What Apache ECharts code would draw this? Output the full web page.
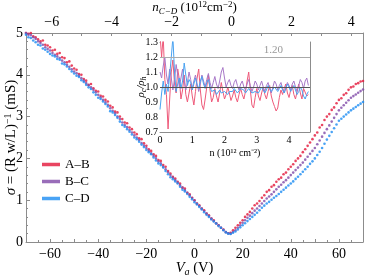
<!DOCTYPE html>
<html>
<head>
<meta charset="utf-8">
<script src="https://cdn.jsdelivr.net/npm/echarts@6/dist/echarts.min.js"></script>
<style>html,body{margin:0;padding:0;background:#fff}#c{width:382px;height:275px}</style>
</head>
<body>
<div id="c"></div>
<script>
// ---- main plot data: sigma (mS) vs Vg (V), sampled every 1 V from -70 to 70 ----
const vgStart = -70;
const vgStep = 1;
const sigmaAB = [
5.00,4.98,5.00,4.92,4.90,4.85,4.80,4.82,4.72,4.70,
4.66,4.58,4.60,4.50,4.52,4.42,4.40,4.30,4.32,4.22,
4.15,4.12,4.02,4.00,3.90,3.86,3.76,3.78,3.68,3.62,
3.60,3.50,3.48,3.40,3.36,3.26,3.22,3.12,3.10,3.00,
2.94,2.86,2.84,2.74,2.70,2.62,2.58,2.48,2.46,2.36,
2.30,2.22,2.18,2.10,2.06,1.96,1.94,1.84,1.80,1.70,
1.64,1.56,1.52,1.44,1.40,1.30,1.28,1.18,1.14,1.06,
1.00,0.92,0.88,0.80,0.76,0.68,0.64,0.56,0.52,0.45,
0.40,0.34,0.30,0.24,0.21,0.22,0.28,0.34,0.40,0.46,
0.52,0.60,0.66,0.72,0.80,0.88,0.92,0.98,1.06,1.12,
1.20,1.24,1.32,1.36,1.44,1.50,1.54,1.62,1.66,1.74,
1.80,1.86,1.94,2.00,2.06,2.15,2.22,2.30,2.38,2.46,
2.55,2.62,2.74,2.80,2.92,3.00,3.06,3.16,3.22,3.32,
3.40,3.44,3.52,3.56,3.64,3.70,3.72,3.78,3.80,3.84,3.85];
const sigmaBC = [
5.00,4.96,4.95,4.90,4.86,4.80,4.76,4.72,4.66,4.62,
4.58,4.52,4.48,4.44,4.40,4.34,4.30,4.24,4.19,4.13,
4.08,4.04,3.98,3.92,3.86,3.80,3.75,3.70,3.64,3.58,
3.52,3.46,3.40,3.34,3.28,3.20,3.14,3.08,3.00,2.94,
2.86,2.80,2.75,2.68,2.62,2.55,2.50,2.44,2.37,2.31,
2.25,2.18,2.12,2.06,2.00,1.93,1.88,1.80,1.74,1.67,
1.60,1.54,1.48,1.42,1.36,1.30,1.24,1.18,1.12,1.05,
0.99,0.92,0.86,0.80,0.74,0.68,0.62,0.56,0.50,0.45,
0.40,0.34,0.29,0.24,0.21,0.20,0.24,0.28,0.34,0.40,
0.46,0.52,0.58,0.63,0.69,0.75,0.80,0.86,0.92,0.98,
1.04,1.09,1.14,1.20,1.26,1.32,1.37,1.43,1.48,1.54,
1.60,1.66,1.72,1.78,1.84,1.90,1.97,2.04,2.11,2.18,
2.25,2.34,2.43,2.52,2.61,2.70,2.79,2.88,2.97,3.06,
3.15,3.21,3.27,3.33,3.39,3.45,3.49,3.53,3.57,3.61,3.65];
const sigmaCD = [
4.96,4.90,4.88,4.82,4.78,4.72,4.70,4.63,4.60,4.55,
4.50,4.46,4.44,4.38,4.36,4.27,4.25,4.20,4.14,4.08,
4.03,3.98,3.95,3.87,3.83,3.76,3.70,3.66,3.58,3.52,
3.45,3.42,3.36,3.30,3.24,3.13,3.10,3.04,2.97,2.88,
2.80,2.76,2.70,2.64,2.57,2.50,2.46,2.40,2.33,2.27,
2.20,2.15,2.10,2.02,1.95,1.88,1.84,1.78,1.70,1.62,
1.55,1.50,1.45,1.40,1.32,1.25,1.21,1.15,1.08,1.02,
0.95,0.90,0.84,0.78,0.71,0.65,0.60,0.54,0.49,0.44,
0.38,0.34,0.28,0.23,0.20,0.19,0.22,0.25,0.30,0.35,
0.40,0.45,0.50,0.55,0.60,0.65,0.70,0.76,0.82,0.87,
0.92,0.96,1.01,1.06,1.10,1.15,1.20,1.25,1.30,1.35,
1.40,1.45,1.51,1.56,1.62,1.68,1.74,1.80,1.87,1.93,
2.00,2.08,2.16,2.25,2.35,2.45,2.54,2.63,2.72,2.81,
2.90,2.95,3.00,3.05,3.10,3.15,3.19,3.23,3.27,3.31,3.35];

// ---- inset data: rho_c/rho_h vs n (1e12 cm^-2), sampled every 0.05 from 0 ----
const nStart = 0;
const nStep = 0.05;
const ratioAB = [
1.35,1.20,1.34,1.05,0.95,0.72,0.92,1.10,1.18,1.02,
0.96,1.12,1.05,0.92,0.98,1.08,0.95,0.90,0.96,1.02,
0.94,0.88,0.97,1.06,1.12,0.98,0.88,0.85,0.92,1.00,
1.08,0.98,0.90,0.93,0.99,0.94,0.90,0.96,1.03,0.97,
0.92,0.95,1.00,0.96,0.91,0.94,0.98,0.93,0.90,0.95,
0.99,0.95,0.92,0.97,1.04,1.10,0.98,0.88,0.86,0.93,
0.99,0.94,0.91,0.96,1.00,0.95,0.92,0.97,1.01,0.94,
0.90,0.87,0.84,0.86,0.93,0.98,0.95,0.99,1.02,0.96,
0.93,0.98,1.01,0.95,0.92,0.97,1.02,0.96,0.92,0.99,
1.00,0.94,0.95];
const ratioBC = [
1.10,1.06,1.14,1.20,1.08,1.02,1.12,1.06,0.98,1.05,
1.15,1.08,1.00,1.06,1.12,1.04,0.98,1.03,1.10,1.05,
0.99,1.04,1.08,1.02,0.97,1.02,1.08,1.04,1.00,1.05,
1.09,1.03,0.99,1.03,1.07,1.02,0.99,1.04,1.10,1.13,
1.06,1.00,1.03,1.05,1.01,0.99,1.03,1.05,1.01,0.98,
1.02,1.04,1.00,0.98,1.02,1.05,1.01,0.97,1.00,1.04,
1.02,0.98,1.01,1.04,1.00,0.97,1.01,1.03,0.99,0.96,
1.00,1.04,1.02,0.98,1.01,1.03,0.99,0.96,1.00,1.03,
1.01,0.98,1.02,1.04,1.00,0.97,1.01,1.05,1.03,0.99,
1.04,1.06,1.01];
const ratioCD = [
0.85,0.96,1.04,0.95,1.02,0.97,1.08,1.20,1.33,1.10,
0.97,1.02,1.06,0.99,1.04,1.16,1.08,1.01,1.05,1.03,
0.98,1.02,1.06,1.01,0.99,1.04,1.07,1.02,0.99,1.03,
1.05,1.00,0.97,0.96,0.98,0.95,0.96,0.98,0.96,0.95,
0.97,0.96,0.95,0.97,0.96,0.97,0.99,0.98,0.96,0.97,
0.99,1.00,0.98,0.96,0.97,0.99,0.98,0.96,0.95,0.97,
0.98,0.96,0.97,1.00,0.98,0.96,0.98,1.01,0.99,0.97,
0.98,1.00,0.99,0.97,0.99,1.01,0.98,0.96,0.99,1.02,
1.00,0.97,0.99,1.01,0.98,0.95,0.97,1.00,0.98,0.94,
0.92,0.95,0.97];

const seriesNames = ['A–B', 'B–C', 'C–D'];
const bottomLabels = [-60, -40, -20, 0, 20, 40, 60];
const topLabels = [-6, -4, -2, 0, 2, 4];
const topTicks = [-6, -5, -4, -3, -2, -1, 0, 1, 2, 3, 4];
const insetLabels = [0, 1, 2, 3, 4];
const insetRefLines = [1.0, 1.2];

const colors = ['#e4163a', '#8048a8', '#1c8cf2'];
const insetColors = ['#ee5a7a', '#a878c8', '#4aa2f0'];
const SERIF = 'Liberation Serif';
const frame = '#8c8c8c';

function pairs(start, step, ys) {
  return ys.map((y, i) => [+(start + i * step).toFixed(4), y]);
}

const chart = echarts.init(document.getElementById('c'), null, {renderer: 'canvas'});

function richSet(fs, sfs, lh) {
  return {
    sup: {fontSize: sfs, fontFamily: SERIF, color: '#000', verticalAlign: 'top', lineHeight: lh},
    sub: {fontSize: sfs, fontFamily: SERIF, color: '#000', verticalAlign: 'bottom', lineHeight: lh, fontStyle: 'italic'},
    i: {fontSize: fs, fontFamily: SERIF, color: '#000', fontStyle: 'italic', lineHeight: lh},
    n: {fontSize: fs, fontFamily: SERIF, color: '#000', lineHeight: lh}
  };
}

const tickLbl = {fontFamily: SERIF, fontSize: 14, color: '#000'};
const insetLbl = {fontFamily: SERIF, fontSize: 10, color: '#000'};
const line = {show: true, onZero: false, lineStyle: {color: frame, width: 1}};

const option = {
  animation: false,
  backgroundColor: '#fff',
  grid: [
    {left: 26, right: 19, top: 33, bottom: 33, outerBoundsMode: 'none', containLabel: false},
    {left: 160, top: 42, width: 150, height: 90, show: true, backgroundColor: '#fff', borderWidth: 0, z: 5,
     outerBoundsMode: 'none', containLabel: false}
  ],
  legend: {
    orient: 'vertical', left: 37, top: 153, itemWidth: 18, itemHeight: 3.5, itemGap: 4,
    itemTextGap: 13,
    textStyle: {fontFamily: SERIF, fontSize: 13, color: '#000'},
    data: seriesNames.map(n => ({name: n, icon: 'rect'}))
  },
  xAxis: [
    { // main bottom Vg
      gridIndex: 0, type: 'value', position: 'bottom', min: -70, max: 70, interval: 10,
      axisLine: line,
      axisTick: {inside: true, length: 3, lineStyle: {color: frame}},
      minorTick: {show: true, splitNumber: 2, length: 2, lineStyle: {color: frame}},
      splitLine: {show: false},
      axisLabel: Object.assign({margin: 5, formatter: v => bottomLabels.includes(v) ? String(v).replace('-', '−') : ''}, tickLbl),
      name: '{i|V}{sub|g}{n| (V)}', nameLocation: 'middle', nameGap: 18, nameMoveOverlap: false,
      nameTextStyle: {rich: richSet(14.5, 10, 17)}
    },
    { // main top n_C-D
      gridIndex: 0, type: 'value', position: 'top', min: -6.86, max: 4.39,
      axisLine: line,
      axisTick: {inside: true, length: 3, lineStyle: {color: frame}, customValues: topTicks},
      splitLine: {show: false},
      axisLabel: Object.assign({margin: 4, customValues: topLabels, formatter: v => String(v).replace('-', '−')}, tickLbl),
      name: '{i|n}{sub|C−D}{n| (10}{sup|12}{n|cm}{sup|−2}{n|)}', nameLocation: 'middle', nameGap: 17, nameMoveOverlap: false,
      nameTextStyle: {rich: richSet(13, 9, 16)}
    },
    { // inset bottom
      gridIndex: 1, type: 'value', position: 'bottom', min: 0, max: 4.65, interval: 1,
      axisLine: line,
      axisTick: {inside: true, length: 3, lineStyle: {color: frame}},
      minorTick: {show: true, splitNumber: 5, length: 2, lineStyle: {color: frame}},
      splitLine: {show: false},
      axisLabel: Object.assign({margin: 3, showMaxLabel: false, formatter: v => insetLabels.includes(v) ? String(v) : ''}, insetLbl),
      name: 'n (10¹² cm⁻²)', nameLocation: 'middle', nameGap: 16, nameMoveOverlap: false,
      nameTextStyle: {fontFamily: SERIF, fontSize: 10, color: '#000'}
    },
    { // inset top
      gridIndex: 1, type: 'value', position: 'top', min: 0, max: 4.65, interval: 1,
      axisLine: line,
      axisTick: {inside: true, length: 3, lineStyle: {color: frame}},
      minorTick: {show: true, splitNumber: 5, length: 2, lineStyle: {color: frame}},
      splitLine: {show: false},
      axisLabel: {show: false}
    }
  ],
  yAxis: [
    { // main left
      gridIndex: 0, type: 'value', position: 'left', min: 0, max: 5, interval: 1,
      axisLine: line,
      axisTick: {show: true, inside: true, length: 4, lineStyle: {color: frame}},
      minorTick: {show: true, splitNumber: 5, length: 2, lineStyle: {color: frame}},
      splitLine: {show: false},
      axisLabel: Object.assign({margin: 3}, tickLbl),
      name: '{i|σ}{n| = (R w/L)}{sup|−1}{n| (mS)}', nameLocation: 'middle', nameGap: 6, nameMoveOverlap: false,
      nameTextStyle: {rich: richSet(15, 10, 17)}
    },
    { // main right frame
      gridIndex: 0, type: 'value', position: 'right', min: 0, max: 5, interval: 1,
      axisLine: line,
      axisTick: {show: false}, splitLine: {show: false}, axisLabel: {show: false}
    },
    { // inset left
      gridIndex: 1, type: 'value', position: 'left', min: 0.7, max: 1.3, interval: 0.1,
      axisLine: line,
      axisTick: {show: true, inside: true, length: 3, lineStyle: {color: frame}},
      minorTick: {show: true, splitNumber: 2, length: 2, lineStyle: {color: frame}},
      splitLine: {show: false},
      axisLabel: Object.assign({margin: 2, formatter: v => v.toFixed(1)}, insetLbl),
      name: '{i|ρ}{sub|c}{i|/ρ}{sub|h}', nameLocation: 'middle', nameGap: 12, nameMoveOverlap: false,
      nameTextStyle: {rich: {
        i: {fontSize: 11, fontFamily: SERIF, fontStyle: 'italic', color: '#000', lineHeight: 14},
        sub: {fontSize: 8, fontFamily: SERIF, fontStyle: 'italic', color: '#000', verticalAlign: 'bottom', lineHeight: 14}
      }}
    },
    { // inset right
      gridIndex: 1, type: 'value', position: 'right', min: 0.7, max: 1.3,
      axisLine: line,
      axisTick: {show: false}, splitLine: {show: false}, axisLabel: {show: false}
    }
  ],
  series: [
    {name: seriesNames[0], type: 'scatter', xAxisIndex: 0, yAxisIndex: 0, symbolSize: 2.6,
     itemStyle: {color: colors[0]}, data: pairs(vgStart, vgStep, sigmaAB), z: 2},
    {name: seriesNames[1], type: 'scatter', xAxisIndex: 0, yAxisIndex: 0, symbolSize: 2.6,
     itemStyle: {color: colors[1]}, data: pairs(vgStart, vgStep, sigmaBC), z: 2},
    {name: seriesNames[2], type: 'scatter', xAxisIndex: 0, yAxisIndex: 0, symbolSize: 2.6,
     itemStyle: {color: colors[2]}, data: pairs(vgStart, vgStep, sigmaCD), z: 2},
    {name: 'inset-AB', type: 'line', xAxisIndex: 2, yAxisIndex: 2, showSymbol: false, clip: true, z: 6,
     lineStyle: {color: insetColors[0], width: 1}, data: pairs(nStart, nStep, ratioAB)},
    {name: 'inset-BC', type: 'line', xAxisIndex: 2, yAxisIndex: 2, showSymbol: false, clip: true, z: 6,
     lineStyle: {color: insetColors[1], width: 1}, data: pairs(nStart, nStep, ratioBC)},
    {name: 'inset-CD', type: 'line', xAxisIndex: 2, yAxisIndex: 2, showSymbol: false, clip: true, z: 6,
     lineStyle: {color: insetColors[2], width: 1}, data: pairs(nStart, nStep, ratioCD),
     markLine: {
       silent: true, symbol: 'none', animation: false, z: 7,
       data: [
         {yAxis: insetRefLines[0], lineStyle: {color: '#555', width: 1, type: 'solid'}, label: {show: false}},
         {yAxis: insetRefLines[1], lineStyle: {color: '#aaa', width: 1, type: 'solid'},
          label: {show: true, position: 'insideEndTop', distance: [27, 1], formatter: '1.20',
                  fontFamily: SERIF, fontSize: 11, color: '#999'}}
       ]
     }}
  ]
};
chart.setOption(option);
</script>
</body>
</html>
